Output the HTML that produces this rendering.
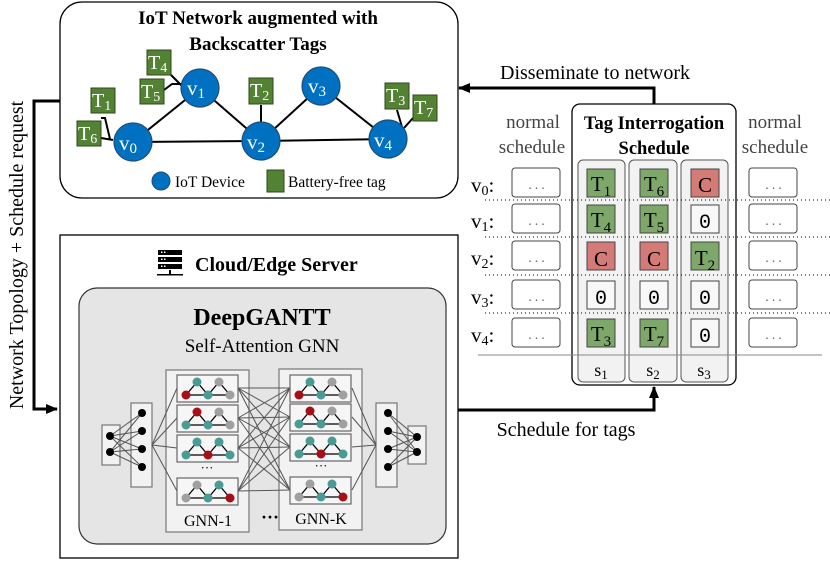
<!DOCTYPE html>
<html><head><meta charset="utf-8"><style>
html,body{margin:0;padding:0;background:#fff;}
svg{display:block;font-family:"Liberation Serif",serif;}
</style></head><body>
<svg id="s" width="830" height="563" viewBox="0 0 830 563" xmlns="http://www.w3.org/2000/svg">
<defs>
<marker id="ah" markerWidth="12" markerHeight="10" refX="11" refY="5" orient="auto" markerUnits="userSpaceOnUse"><path d="M0,0 L12,5 L0,10 z" fill="#000"/></marker>
</defs>
<rect x="60" y="2" width="398" height="196" rx="22" fill="#fff" stroke="#000" stroke-width="1.3"/>
<text x="258" y="24" font-size="19" font-weight="bold" text-anchor="middle">IoT Network augmented with</text>
<text x="258" y="50" font-size="19" font-weight="bold" text-anchor="middle">Backscatter Tags</text>
<g stroke="#000" stroke-width="2">
<line x1="133" y1="142" x2="200" y2="88"/><line x1="133" y1="142" x2="261" y2="141"/>
<line x1="200" y1="88" x2="261" y2="141"/><line x1="261" y1="141" x2="321" y2="86"/>
<line x1="321" y1="86" x2="388" y2="139"/><line x1="261" y1="141" x2="388" y2="139"/>
<polyline points="110,139 105,118 101,118" fill="none"/>
<polyline points="113,140 101,138" fill="none"/>
<polyline points="182,84 172,84 164,90" fill="none"/>
<polyline points="182,86 168,72" fill="none"/>
<line x1="261" y1="122" x2="261" y2="105"/>
<polyline points="402,127 397,110" fill="none"/>
<polyline points="404,128 413,118" fill="none"/>
</g>
<g fill="#0070c0" stroke="#1f4e79" stroke-width="1.2">
<circle cx="133" cy="142" r="19"/><circle cx="200" cy="88" r="19"/><circle cx="261" cy="141" r="19"/><circle cx="321" cy="86" r="19"/><circle cx="388" cy="139" r="19"/>
</g>
<g font-size="21" fill="#fff">
<text x="119" y="150">v<tspan font-size="15" dy="3">0</tspan></text>
<text x="187" y="95">v<tspan font-size="15" dy="3">1</tspan></text>
<text x="247" y="149">v<tspan font-size="15" dy="3">2</tspan></text>
<text x="308" y="93">v<tspan font-size="15" dy="3">3</tspan></text>
<text x="374" y="147">v<tspan font-size="15" dy="3">4</tspan></text>
</g>
<g fill="#548235" stroke="#2e4a1a" stroke-width="1">
<rect x="91" y="88" width="24" height="25"/><rect x="77" y="121" width="24" height="25"/>
<rect x="147" y="50" width="24" height="25"/><rect x="140" y="79" width="24" height="25"/>
<rect x="249" y="78" width="24" height="26"/><rect x="385" y="83" width="24" height="26"/>
<rect x="413" y="95" width="24" height="26"/>
<rect x="267" y="170" width="17" height="22"/>
</g>
<g font-size="20" fill="#fff">
<text x="92" y="107">T<tspan font-size="14" dy="3">1</tspan></text>
<text x="78" y="140">T<tspan font-size="14" dy="3">6</tspan></text>
<text x="148" y="69">T<tspan font-size="14" dy="3">4</tspan></text>
<text x="141" y="98">T<tspan font-size="14" dy="3">5</tspan></text>
<text x="250" y="97">T<tspan font-size="14" dy="3">2</tspan></text>
<text x="386" y="102">T<tspan font-size="14" dy="3">3</tspan></text>
<text x="414" y="114">T<tspan font-size="14" dy="3">7</tspan></text>
</g>
<circle cx="161" cy="181" r="9" fill="#0070c0" stroke="#1f4e79"/>
<text x="175" y="187" font-size="15.5">IoT Device</text>
<text x="288" y="187" font-size="15.5">Battery-free tag</text>

<polyline points="60,101 34,101 34,409 57,409" fill="none" stroke="#000" stroke-width="3" marker-end="url(#ah)"/>
<text transform="translate(23,255) rotate(-90)" font-size="20" text-anchor="middle">Network Topology + Schedule request</text>

<polyline points="654,104 654,88 459,88" fill="none" stroke="#000" stroke-width="3" marker-end="url(#ah)"/>
<text x="595" y="79" font-size="20" text-anchor="middle">Disseminate to network</text>
<polyline points="458,410 654,410 654,387" fill="none" stroke="#000" stroke-width="3" marker-end="url(#ah)"/>
<text x="566" y="436" font-size="20" text-anchor="middle">Schedule for tags</text>

<rect x="60" y="235" width="398" height="323" fill="#fff" stroke="#000" stroke-width="1.3"/>
<g fill="#000">
<rect x="158" y="250" width="24" height="5"/><rect x="158" y="257" width="24" height="5"/><rect x="158" y="264" width="24" height="5"/>
<rect x="169" y="270" width="2" height="4"/><rect x="157" y="274" width="26" height="1.5"/>
</g>
<g fill="#fff"><rect x="161" y="251.5" width="1.5" height="1.5"/><rect x="164" y="251.5" width="1.5" height="1.5"/><rect x="161" y="258.5" width="1.5" height="1.5"/><rect x="164" y="258.5" width="1.5" height="1.5"/><rect x="161" y="265.5" width="1.5" height="1.5"/><rect x="164" y="265.5" width="1.5" height="1.5"/></g>
<text x="195" y="271" font-size="20" font-weight="bold">Cloud/Edge Server</text>
<rect x="79" y="288" width="367" height="256" rx="18" fill="#e5e5e5" stroke="#333" stroke-width="1.2"/>
<text x="262" y="325" font-size="24" font-weight="bold" text-anchor="middle">DeepGANTT</text>
<text x="262" y="352" font-size="19" text-anchor="middle">Self-Attention GNN</text>
<g id="nn"></g>
<text x="208" y="526" font-size="16" text-anchor="middle">GNN-1</text>
<text x="321" y="524" font-size="16" text-anchor="middle">GNN-K</text>
<text x="270" y="523" font-size="18" text-anchor="middle" font-weight="bold">···</text>
<text x="207" y="472" font-size="13" text-anchor="middle">···</text>
<text x="321" y="470" font-size="13" text-anchor="middle">···</text>

<rect x="572" y="104" width="164" height="281" rx="8" fill="#fff" stroke="#000" stroke-width="1.3"/>
<text x="654" y="129" font-size="18.5" font-weight="bold" text-anchor="middle">Tag Interrogation</text>
<text x="654" y="154" font-size="18.5" font-weight="bold" text-anchor="middle">Schedule</text>
<g font-size="19" fill="#444" text-anchor="middle">
<text x="533" y="128">normal</text><text x="532" y="153">schedule</text>
<text x="775" y="128">normal</text><text x="775" y="153">schedule</text>
</g>
<g fill="#f2f2f2" stroke="#555" stroke-width="1">
<rect x="578" y="160" width="47" height="222" rx="5"/><rect x="629" y="160" width="48" height="222" rx="5"/><rect x="681" y="160" width="47" height="222" rx="5"/>
</g>
<g stroke="#000" stroke-width="1" stroke-dasharray="1,3">
<line x1="485" y1="200" x2="830" y2="200"/><line x1="485" y1="237" x2="830" y2="237"/><line x1="485" y1="275" x2="830" y2="275"/><line x1="485" y1="313" x2="830" y2="313"/>
</g>
<line x1="478" y1="355" x2="822" y2="355" stroke="#888" stroke-width="1"/>
<g id="cells"></g>
<g font-size="18" text-anchor="middle">
<text x="601" y="376">s<tspan font-size="13" dy="3">1</tspan></text>
<text x="653" y="376">s<tspan font-size="13" dy="3">2</tspan></text>
<text x="704" y="376">s<tspan font-size="13" dy="3">3</tspan></text>
</g>
<g font-size="21">
<text x="471" y="192">v<tspan font-size="14" dy="3">0</tspan><tspan dy="-3">:</tspan></text>
<text x="471" y="228">v<tspan font-size="14" dy="3">1</tspan><tspan dy="-3">:</tspan></text>
<text x="471" y="265">v<tspan font-size="14" dy="3">2</tspan><tspan dy="-3">:</tspan></text>
<text x="471" y="304">v<tspan font-size="14" dy="3">3</tspan><tspan dy="-3">:</tspan></text>
<text x="471" y="342">v<tspan font-size="14" dy="3">4</tspan><tspan dy="-3">:</tspan></text>
</g>
<g font-size="21" text-anchor="middle">
<text x="601" y="191">T<tspan font-size="15" dy="5">1</tspan></text>
<text x="654" y="191">T<tspan font-size="15" dy="5">6</tspan></text>
<text x="705" y="192">C</text>
<text x="601" y="227">T<tspan font-size="15" dy="5">4</tspan></text>
<text x="654" y="227">T<tspan font-size="15" dy="5">5</tspan></text>
<text x="705" y="228" font-family="Liberation Mono,monospace" font-size="20">0</text>
<text x="601" y="266">C</text>
<text x="654" y="266">C</text>
<text x="705" y="265">T<tspan font-size="15" dy="5">2</tspan></text>
<text x="601" y="304" font-family="Liberation Mono,monospace" font-size="20">0</text>
<text x="654" y="304" font-family="Liberation Mono,monospace" font-size="20">0</text>
<text x="705" y="304" font-family="Liberation Mono,monospace" font-size="20">0</text>
<text x="601" y="341">T<tspan font-size="15" dy="5">3</tspan></text>
<text x="654" y="341">T<tspan font-size="15" dy="5">7</tspan></text>
<text x="705" y="342" font-family="Liberation Mono,monospace" font-size="20">0</text>
</g>
<g font-size="14" fill="#666" text-anchor="middle" letter-spacing="3">
<text x="538" y="189">...</text><text x="538" y="225">...</text><text x="538" y="262">...</text><text x="538" y="301">...</text><text x="538" y="339">...</text>
<text x="775" y="189">...</text><text x="775" y="225">...</text><text x="775" y="262">...</text><text x="775" y="301">...</text><text x="775" y="339">...</text>
</g>
</svg>
<script>
var NS="http://www.w3.org/2000/svg";
function el(p,t,a){var e=document.createElementNS(NS,t);for(var k in a)e.setAttribute(k,a[k]);p.appendChild(e);return e;}
var c=document.getElementById('cells');
var rows=[169,205,242,281,319];
var cols=[587,640,691];
var types=[["g","g","r"],["g","g","w"],["r","r","g"],["w","w","w"],["g","g","w"]];
var fills={g:"#7ea86a",r:"#d47b78",w:"#f8f8f8"};
for(var i=0;i<5;i++){for(var j=0;j<3;j++){el(c,"rect",{x:cols[j],y:rows[i],width:28,height:28,fill:fills[types[i][j]],stroke:"#444","stroke-width":1});}
el(c,"rect",{x:512,y:rows[i]-1,width:48,height:29,rx:3,fill:"#fff",stroke:"#444"});
el(c,"rect",{x:749,y:rows[i]-1,width:48,height:29,rx:3,fill:"#fff",stroke:"#444"});}
var n=document.getElementById('nn');
var G="#555";
el(n,"rect",{x:102,y:425,width:18,height:40,fill:"#f2f2f2",stroke:"#777","stroke-width":1.2});
el(n,"rect",{x:131,y:403,width:21,height:84,fill:"#f2f2f2",stroke:"#777","stroke-width":1.2});
el(n,"rect",{x:376,y:403,width:21,height:84,fill:"#f2f2f2",stroke:"#777","stroke-width":1.2});
el(n,"rect",{x:408,y:426,width:18,height:38,fill:"#f2f2f2",stroke:"#777","stroke-width":1.2});
el(n,"rect",{x:166,y:370,width:83,height:162,fill:"#f2f2f2",stroke:"#777","stroke-width":1.2});
el(n,"rect",{x:279,y:369,width:83,height:161,fill:"#f2f2f2",stroke:"#777","stroke-width":1.2});
var in1=[[110,436],[110,452]],in2=[[142,413],[142,431],[142,449],[142,467]];
var o2=[[388,413],[388,431],[388,449],[388,467]],o1=[[417,437],[417,452]];
in1.forEach(function(a){in2.forEach(function(b){el(n,"line",{x1:a[0],y1:a[1],x2:b[0],y2:b[1],stroke:G,"stroke-width":1});});});
o2.forEach(function(a){o1.forEach(function(b){el(n,"line",{x1:a[0],y1:a[1],x2:b[0],y2:b[1],stroke:G,"stroke-width":1});});});
var by=[375,405,435,478],byK=[375,404,434,477];
by.forEach(function(y){el(n,"line",{x1:152,y1:445,x2:177,y2:y+13,stroke:G,"stroke-width":1});});
byK.forEach(function(y){el(n,"line",{x1:352,y1:y+13,x2:376,y2:445,stroke:G,"stroke-width":1});});
by.forEach(function(a){byK.forEach(function(b){el(n,"line",{x1:238,y1:a+13,x2:290,y2:b+13,stroke:G,"stroke-width":1});});});
[in1,in2,o2,o1].forEach(function(s){s.forEach(function(p){el(n,"circle",{cx:p[0],cy:p[1],r:4,fill:"#000"});});});
var cols2=[["r","t","t","g","g"],["t","r","t","g","g"],["t","t","r","t","t"],["g","g","t","t","r"]];
var cc={r:"#a50f15",t:"#4a9a96",g:"#a0a0a0"};
function mini(x,y,k){el(n,"rect",{x:x,y:y,width:61,height:27,fill:"#f6f6f6",stroke:"#666","stroke-width":1.2});
var p=[[x+9,y+20],[x+20,y+7],[x+31,y+20],[x+42,y+7],[x+53,y+20]];
[[0,1],[1,2],[0,2],[2,3],[3,4],[2,4]].forEach(function(e){el(n,"line",{x1:p[e[0]][0],y1:p[e[0]][1],x2:p[e[1]][0],y2:p[e[1]][1],stroke:"#000","stroke-width":1.3});});
p.forEach(function(q,i){el(n,"circle",{cx:q[0],cy:q[1],r:4.5,fill:cc[cols2[k][i]]});});}
by.forEach(function(y,k){mini(177,y,k);});
byK.forEach(function(y,k){mini(290,y,k);});
</script>
</body></html>
